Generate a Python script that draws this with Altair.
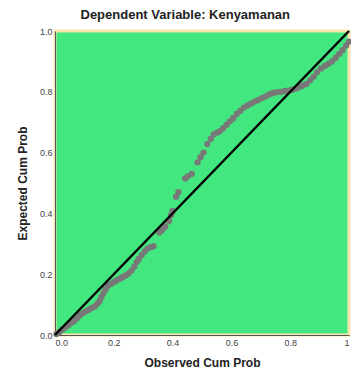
import altair as alt
import pandas as pd

# Observed cumulative probability (x) and expected cumulative probability (y)
obs_cum = [0.005, 0.015, 0.025, 0.035, 0.045, 0.055, 0.065, 0.075, 0.085, 0.095,
           0.105, 0.115, 0.125, 0.135, 0.145, 0.152, 0.158, 0.165, 0.172, 0.18,
           0.19, 0.2, 0.21, 0.22, 0.23, 0.24, 0.25, 0.26, 0.27, 0.278,
           0.285, 0.295, 0.305, 0.315, 0.325, 0.335, 0.355, 0.365, 0.375, 0.388,
           0.395, 0.4, 0.412, 0.42, 0.443, 0.452, 0.465, 0.485, 0.495, 0.505,
           0.518, 0.53, 0.54, 0.55, 0.56, 0.572, 0.584, 0.595, 0.606, 0.618,
           0.63, 0.642, 0.655, 0.668, 0.68, 0.692, 0.705, 0.718, 0.73, 0.742,
           0.755, 0.768, 0.78, 0.792, 0.805, 0.818, 0.83, 0.842, 0.855, 0.868,
           0.88, 0.892, 0.905, 0.918, 0.93, 0.942, 0.955, 0.967, 0.978, 0.99, 1.0]
exp_cum = [0.003, 0.01, 0.018, 0.025, 0.032, 0.04, 0.046, 0.055, 0.065, 0.072,
           0.078, 0.083, 0.089, 0.094, 0.103, 0.112, 0.125, 0.138, 0.15, 0.162,
           0.168, 0.174, 0.18, 0.185, 0.19, 0.196, 0.202, 0.212, 0.225, 0.24,
           0.25, 0.263, 0.275, 0.285, 0.289, 0.292, 0.337, 0.345, 0.356, 0.375,
           0.395, 0.408, 0.455, 0.47, 0.515, 0.522, 0.53, 0.568, 0.585, 0.6,
           0.628, 0.645, 0.66, 0.665, 0.67, 0.68, 0.692, 0.703, 0.713, 0.727,
           0.737, 0.748, 0.755, 0.762, 0.768, 0.773, 0.78, 0.786, 0.792, 0.796,
           0.799, 0.8, 0.802, 0.804, 0.806, 0.81, 0.815, 0.82, 0.826, 0.838,
           0.85, 0.865, 0.877, 0.885, 0.892, 0.9, 0.912, 0.925, 0.937, 0.952, 0.965]

ref_x = [0.0, 1.0]
ref_y = [0.0, 1.0]
tick_values = [0.0, 0.2, 0.4, 0.6, 0.8, 1.0]

pts = pd.DataFrame({"obs": obs_cum, "exp": exp_cum})
ref = pd.DataFrame({"obs": ref_x, "exp": ref_y})

xscale = alt.Scale(domain=[0, 1], nice=False, zero=False)
yscale = alt.Scale(domain=[0, 1], nice=False, zero=False)

xaxis = alt.Axis(values=tick_values, title="Observed Cum Prob",
                 labelExpr="datum.value == 1 ? '1' : format(datum.value, '.1f')",
                 grid=False, ticks=False, labelPadding=3, titlePadding=10)
yaxis = alt.Axis(values=tick_values, format=".1f", title="Expected Cum Prob",
                 grid=False, ticks=False, labelPadding=3, titlePadding=10)

points = alt.Chart(pts).mark_circle(size=40, color="#787878", opacity=1).encode(
    x=alt.X("obs:Q", scale=xscale, axis=xaxis),
    y=alt.Y("exp:Q", scale=yscale, axis=yaxis),
)

line = alt.Chart(ref).mark_line(color="black", strokeWidth=2.5).encode(
    x=alt.X("obs:Q", scale=xscale),
    y=alt.Y("exp:Q", scale=yscale),
)

chart = alt.layer(points, line).properties(
    width=343,
    height=360,
    autosize=alt.AutoSizeParams(type="fit", contains="padding"),
    padding={"left": 8, "top": 1, "right": -3, "bottom": 0},
    title=alt.TitleParams("Dependent Variable: Kenyamanan", anchor="middle",
                          frame="bounds", fontSize=13, fontWeight="bold",
                          color="#222222", offset=4),
).configure(
    font="Liberation Sans",
).configure_view(
    fill="#43E77F",
    stroke="#FCE4AE",
    strokeWidth=3,
).configure_axis(
    domainColor="#555555",
    domainWidth=1,
    labelFontSize=9,
    labelColor="#444444",
    titleFontSize=12,
    titleFontWeight="bold",
    titleColor="#222222",
)

chart.save("out.html", embed_options={"renderer": "svg", "actions": False})
